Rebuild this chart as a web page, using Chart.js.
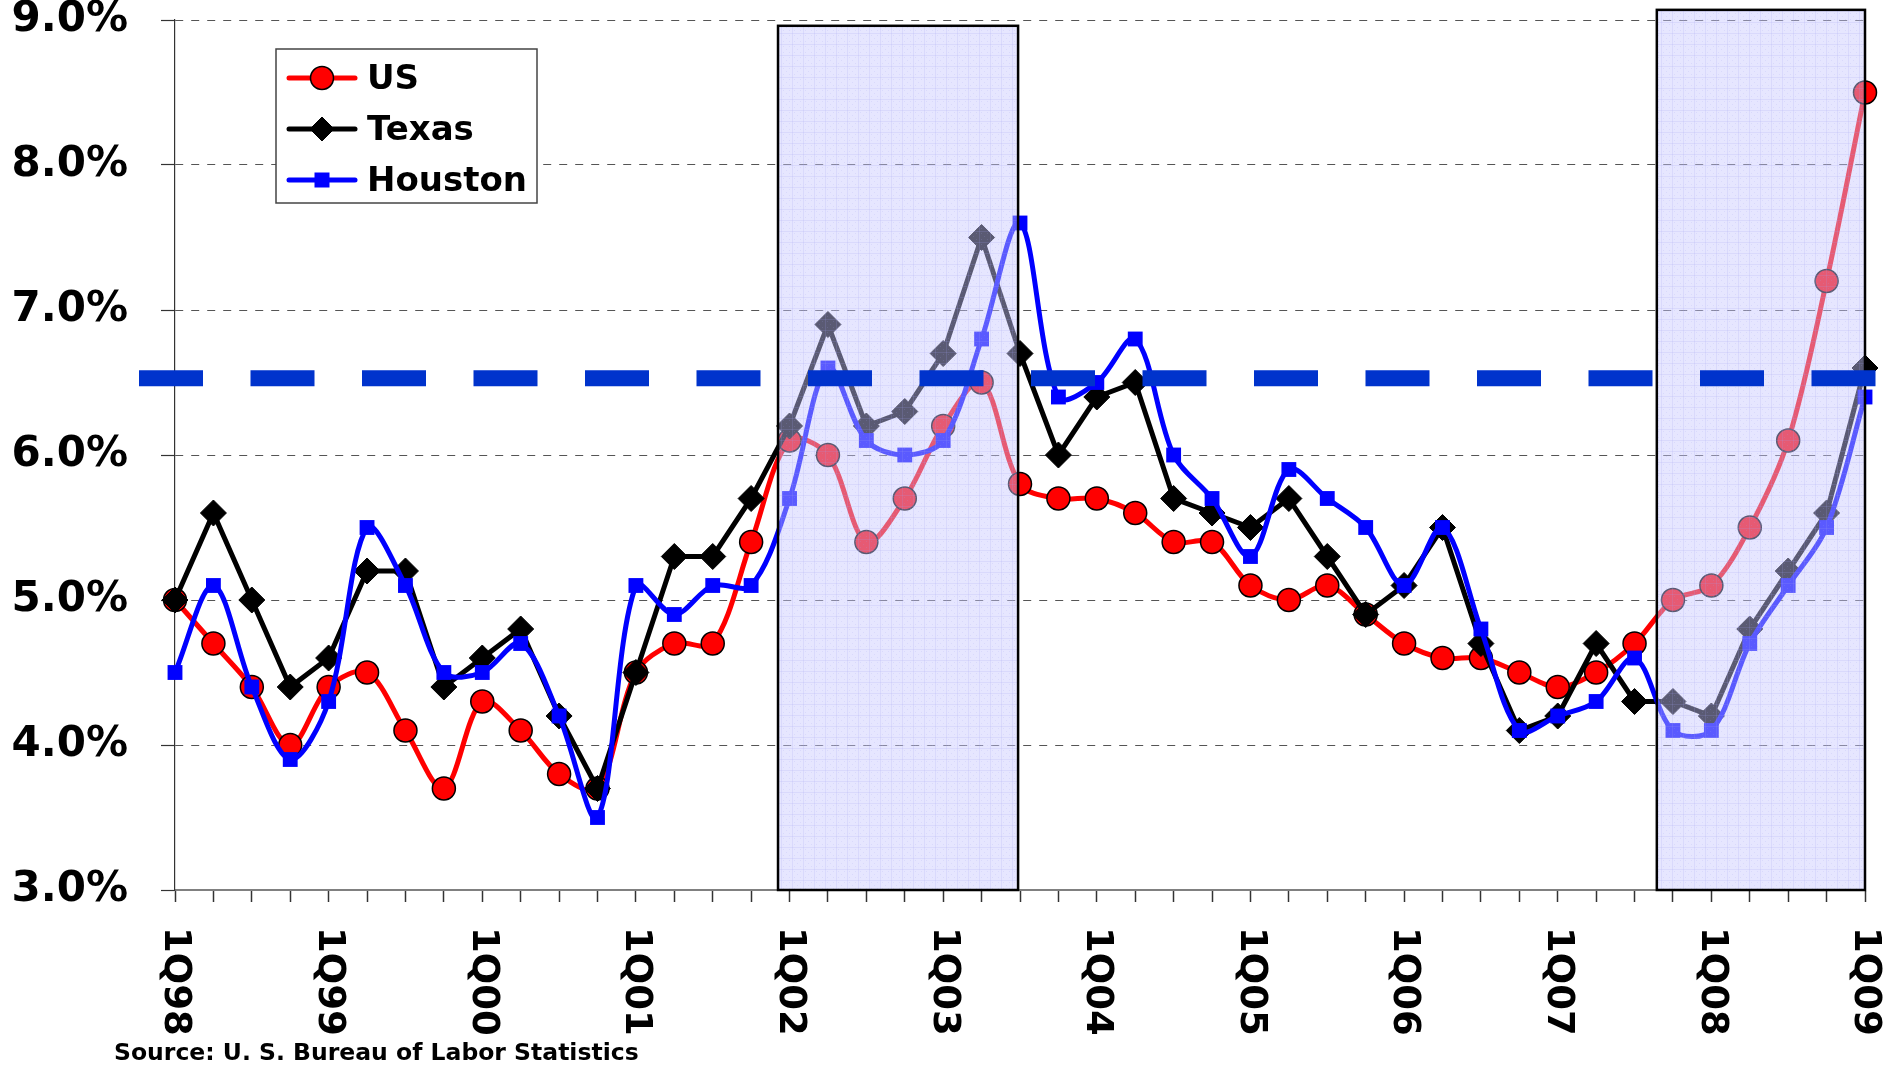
<!DOCTYPE html>
<html><head><meta charset="utf-8">
<script src="https://cdn.jsdelivr.net/npm/chart.js@4.4.1/dist/chart.umd.min.js"></script>
<style>html,body{margin:0;padding:0;background:#fff;overflow:hidden}canvas{display:block}</style>
</head><body>
<canvas id="c" width="1898" height="1067"></canvas>
<script>
// ---------- data ----------
const categories = [
  '1Q98','2Q98','3Q98','4Q98','1Q99','2Q99','3Q99','4Q99',
  '1Q00','2Q00','3Q00','4Q00','1Q01','2Q01','3Q01','4Q01',
  '1Q02','2Q02','3Q02','4Q02','1Q03','2Q03','3Q03','4Q03',
  '1Q04','2Q04','3Q04','4Q04','1Q05','2Q05','3Q05','4Q05',
  '1Q06','2Q06','3Q06','4Q06','1Q07','2Q07','3Q07','4Q07',
  '1Q08','2Q08','3Q08','4Q08','1Q09'
];
const yearTickLabels = ['1Q98','1Q99','1Q00','1Q01','1Q02','1Q03','1Q04','1Q05','1Q06','1Q07','1Q08','1Q09'];
const usRate = [
  5.0,4.7,4.4,4.0, 4.4,4.5,4.1,3.7, 4.3,4.1,3.8,3.7, 4.5,4.7,4.7,5.4,
  6.1,6.0,5.4,5.7, 6.2,6.5,5.8,5.7, 5.7,5.6,5.4,5.4, 5.1,5.0,5.1,4.9,
  4.7,4.6,4.6,4.5, 4.4,4.5,4.7,5.0, 5.1,5.5,6.1,7.2, 8.5
];
const texasRate = [
  5.0,5.6,5.0,4.4, 4.6,5.2,5.2,4.4, 4.6,4.8,4.2,3.7, 4.5,5.3,5.3,5.7,
  6.2,6.9,6.2,6.3, 6.7,7.5,6.7,6.0, 6.4,6.5,5.7,5.6, 5.5,5.7,5.3,4.9,
  5.1,5.5,4.7,4.1, 4.2,4.7,4.3,4.3, 4.2,4.8,5.2,5.6, 6.6
];
const houstonRate = [
  4.5,5.1,4.4,3.9, 4.3,5.5,5.1,4.5, 4.5,4.7,4.2,3.5, 5.1,4.9,5.1,5.1,
  5.7,6.6,6.1,6.0, 6.1,6.8,7.6,6.4, 6.5,6.8,6.0,5.7, 5.3,5.9,5.7,5.5,
  5.1,5.5,4.8,4.1, 4.2,4.3,4.6,4.1, 4.1,4.7,5.1,5.5, 6.4
];
const referenceLevel = 6.53;
// shaded periods: [from category index, to category index, top value]
const shadedFrom = [15.7, 38.58];
const shadedTo   = [21.95, 44];
const shadedTop  = [8.96, 9.07];
const sourceNote = 'Source: U. S. Bureau of Labor Statistics';

// ---------- chart ----------
const FONT = "'DejaVu Sans', 'Liberation Sans', sans-serif";
Chart.defaults.font.family = FONT;

function makeShadePattern(ctx) {
  const t = document.createElement('canvas');
  t.width = 11; t.height = 11;
  const g = t.getContext('2d');
  g.fillStyle = 'rgba(200,200,255,0.45)';
  g.fillRect(0, 0, 11, 11);
  g.fillStyle = 'rgba(160,160,240,0.18)';
  g.fillRect(0, 0, 1, 11);
  g.fillRect(0, 0, 11, 1);
  for (let i = 2; i < 11; i += 3) {
    for (let j = 2; j < 11; j += 3) {
      if ((i + j) % 2 === 0) g.fillRect(i, j, 1, 1);
    }
  }
  return ctx.createPattern(t, 'repeat');
}

const overlayPlugin = {
  id: 'overlay',
  afterDatasetsDraw(chart) {
    const {ctx} = chart;
    const x = chart.scales.x, y = chart.scales.y;
    ctx.save();
    const pat = makeShadePattern(ctx);
    for (let k = 0; k < shadedFrom.length; k++) {
      const x1 = x.getPixelForValue(shadedFrom[k]);
      const x2 = x.getPixelForValue(shadedTo[k]);
      const y1 = y.getPixelForValue(shadedTop[k]);
      const y2 = y.getPixelForValue(y.min);
      ctx.fillStyle = pat || 'rgba(200,200,255,0.45)';
      ctx.fillRect(x1, y1, x2 - x1, y2 - y1);
      ctx.lineWidth = 2.5;
      ctx.strokeStyle = '#000';
      ctx.strokeRect(x1, y1, x2 - x1, y2 - y1);
    }
    const yr = y.getPixelForValue(referenceLevel);
    ctx.setLineDash([64, 47.5]);
    ctx.lineWidth = 16;
    ctx.strokeStyle = '#0033CC';
    ctx.beginPath();
    ctx.moveTo(x.left - 36, yr);
    ctx.lineTo(x.right + 17, yr);
    ctx.stroke();
    ctx.restore();
  },
  afterDraw(chart) {
    const {ctx} = chart;
    const x = chart.scales.x;
    ctx.save();
    // rotated x labels
    ctx.font = 'bold 37px ' + FONT;
    ctx.fillStyle = '#000';
    ctx.textAlign = 'left';
    ctx.textBaseline = 'middle';
    yearTickLabels.forEach(lab => {
      const i = categories.indexOf(lab);
      const px = x.getPixelForValue(i);
      ctx.save();
      ctx.translate(px, 927);
      ctx.rotate(Math.PI / 2);
      ctx.fillText(lab, 0, 0);
      ctx.restore();
    });
    // source note
    ctx.font = 'bold 23.5px ' + FONT;
    ctx.textBaseline = 'alphabetic';
    ctx.fillText(sourceNote, 114, 1060);
    // legend
    const lx = 276, ly = 49, lw = 261, lh = 154;
    ctx.fillStyle = '#fff';
    ctx.fillRect(lx, ly, lw, lh);
    ctx.lineWidth = 1.5;
    ctx.strokeStyle = '#444';
    ctx.strokeRect(lx, ly, lw, lh);
    const rows = [78, 129, 180];
    chart.data.datasets.forEach((ds, i) => {
      const ry = rows[i];
      ctx.strokeStyle = ds.borderColor;
      ctx.lineWidth = 5;
      ctx.lineCap = 'round';
      ctx.beginPath(); ctx.moveTo(289, ry); ctx.lineTo(355, ry); ctx.stroke();
      ctx.lineCap = 'butt';
      const cx = 322;
      ctx.fillStyle = ds.pointBackgroundColor;
      ctx.strokeStyle = ds.pointBorderColor;
      ctx.lineWidth = ds.pointBorderWidth;
      ctx.beginPath();
      if (ds.pointStyle === 'circle') {
        ctx.arc(cx, ry, 11.5, 0, Math.PI * 2);
      } else if (ds.pointStyle === 'rectRot') {
        ctx.moveTo(cx, ry - 12); ctx.lineTo(cx + 12, ry); ctx.lineTo(cx, ry + 12); ctx.lineTo(cx - 12, ry); ctx.closePath();
      } else {
        ctx.rect(cx - 7.5, ry - 7.5, 15, 15);
      }
      ctx.fill();
      if (ds.pointBorderWidth) ctx.stroke();
      ctx.fillStyle = '#000';
      ctx.font = 'bold 34px ' + FONT;
      ctx.textBaseline = 'middle';
      ctx.fillText(ds.label, 367, ry + 2);
    });
    ctx.restore();
  }
};

new Chart(document.getElementById('c'), {
  type: 'line',
  data: {
    labels: categories,
    datasets: [
      {label: 'US', data: usRate, borderColor: '#FF0000', backgroundColor: '#FF0000', borderWidth: 5,
       tension: 0.33, pointStyle: 'circle', pointRadius: 11.5, pointBackgroundColor: '#FF0000',
       pointBorderColor: '#000000', pointBorderWidth: 1.5, order: 3, clip: false},
      {label: 'Texas', data: texasRate, borderColor: '#000000', backgroundColor: '#000000', borderWidth: 5,
       tension: 0, pointStyle: 'rectRot', pointRadius: 13, pointBackgroundColor: '#000000',
       pointBorderColor: '#000000', pointBorderWidth: 1, order: 2, clip: false},
      {label: 'Houston', data: houstonRate, borderColor: '#0000FF', backgroundColor: '#0000FF', borderWidth: 5,
       tension: 0.33, pointStyle: 'rect', pointRadius: 10.5, pointBackgroundColor: '#0000FF',
       pointBorderColor: '#0000FF', pointBorderWidth: 0, order: 1, clip: false}
    ]
  },
  options: {
    responsive: false,
    animation: false,
    devicePixelRatio: 1,
    events: [],
    layout: {padding: {top: 20, right: 33, bottom: 0, left: 0}},
    plugins: {legend: {display: false}, tooltip: {enabled: false}},
    scales: {
      x: {
        type: 'category',
        offset: false,
        grid: {display: true, drawOnChartArea: false, drawTicks: true, tickLength: 12, color: '#333', tickColor: '#333', tickWidth: 1.5},
        border: {display: true, color: '#808080', width: 2},
        ticks: {display: false, autoSkip: false},
        afterFit(s) { s.height = 177; s.paddingLeft = 0; s.paddingRight = 0; }
      },
      y: {
        type: 'linear',
        min: 3, max: 9,
        ticks: {stepSize: 1, color: '#000', padding: 33,
                font: {family: FONT, size: 42, weight: 'bold'},
                callback: v => v.toFixed(1) + '%'},
        grid: {color: '#555', lineWidth: 1, drawTicks: true, tickLength: 14, tickColor: '#333', tickWidth: 1.2},
        border: {display: true, color: '#333', width: 1.2, dash: [8, 8]},
        afterFit(s) { s.width = 175; s.paddingTop = 0; s.paddingBottom = 0; }
      }
    }
  },
  plugins: [overlayPlugin]
});
</script>
</body></html>
